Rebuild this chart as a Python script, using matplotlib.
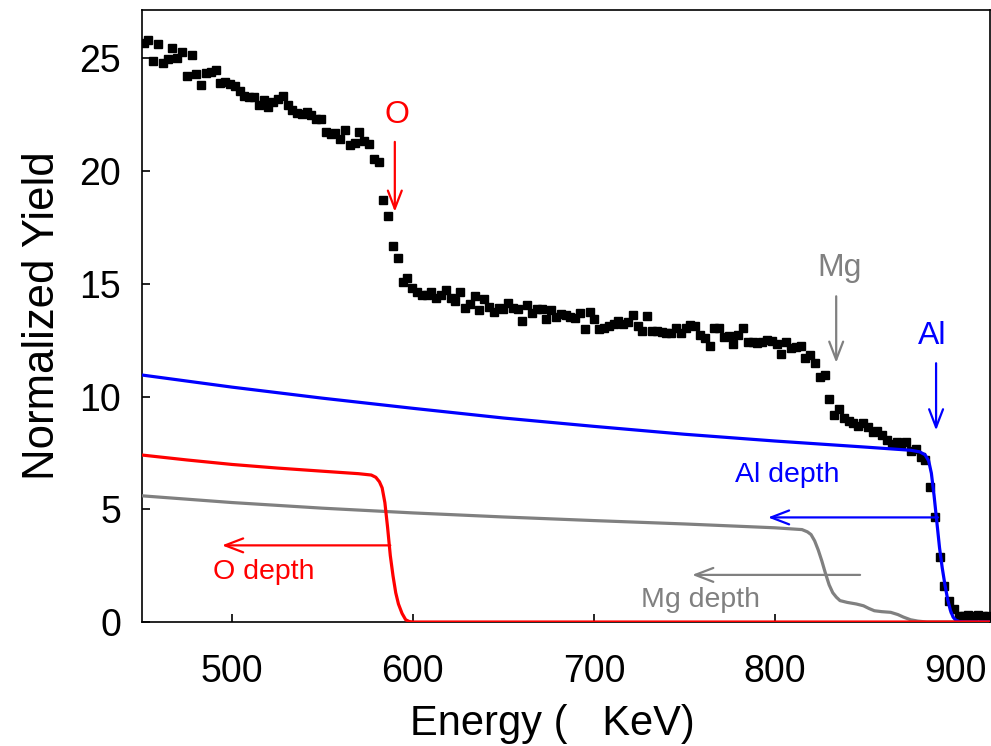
import numpy as np
import matplotlib.pyplot as plt

plt.rcParams['font.family'] = 'Liberation Sans'

# measured RBS spectrum (channel calibration + normalized yield)
e_start = 451.2   # keV, first channel
e_step = 2.65     # keV per channel
yield_exp = [
    25.68, 25.80, 24.87, 25.66, 24.78, 24.97, 25.46, 25.04, 25.27, 24.23,
    25.15, 24.33, 23.83, 24.35, 24.39, 24.49, 23.89, 23.94, 23.86, 23.76,
    23.57, 23.35, 23.27, 23.27, 22.95, 23.15, 22.86, 23.09, 23.20, 23.35,
    22.95, 22.71, 22.60, 22.55, 22.64, 22.47, 22.30, 22.33, 21.73, 21.63,
    21.68, 21.44, 21.81, 21.16, 21.26, 21.73, 21.33, 21.22, 20.52, 20.42,
    18.73, 17.99, 16.68, 16.17, 15.10, 15.24, 14.80, 14.66, 14.50, 14.50,
    14.65, 14.39, 14.49, 14.72, 14.39, 14.25, 14.62, 13.92, 14.10, 14.46,
    13.83, 14.35, 13.98, 13.77, 13.95, 13.87, 14.13, 13.95, 13.87, 13.36,
    14.05, 13.73, 13.87, 13.87, 13.46, 13.85, 13.54, 13.65, 13.61, 13.54,
    13.48, 13.70, 13.02, 13.75, 13.43, 12.99, 13.06, 13.14, 13.21, 13.36,
    13.21, 13.31, 13.62, 13.14, 12.92, 13.56, 12.89, 12.92, 12.87, 12.84,
    12.80, 13.06, 12.84, 13.06, 13.16, 13.14, 12.72, 12.59, 12.25, 13.03,
    13.06, 12.65, 12.69, 12.32, 12.73, 13.03, 12.44, 12.44, 12.39, 12.44,
    12.50, 12.47, 12.32, 11.88, 12.40, 12.15, 12.18, 12.25, 11.73, 11.85,
    11.47, 10.87, 10.95, 9.90, 9.18, 9.47, 9.07, 8.92, 8.81, 8.70,
    8.81, 8.63, 8.41, 8.48, 8.29, 8.08, 7.89, 7.97, 7.89, 7.97,
    7.59, 7.67, 7.33, 7.19, 5.97, 4.67, 2.87, 1.61, 0.92, 0.58,
    0.28, 0.25, 0.31, 0.25, 0.31, 0.28, 0.25,
]

# simulated partial spectra
al_energy = [450, 500, 550, 600, 650, 700, 750, 800, 850, 875, 880, 883, 885,
             886.5, 888, 889.5, 891, 892.5, 894, 895.5, 897, 898.5, 900, 902,
             905, 918]
al_yield = [10.96, 10.42, 9.93, 9.48, 9.05, 8.68, 8.33, 8.03, 7.76, 7.62, 7.55,
            7.42, 7.15, 6.6, 5.6, 4.45, 3.3, 2.4, 1.65, 1.0, 0.52, 0.22, 0.08,
            0.02, 0.0, 0.0]

o_energy = [450, 475, 500, 525, 550, 570, 577, 579.5, 581.5, 583, 584.5, 586,
            587.5, 589, 590.5, 592, 594, 596, 598, 600, 918]
o_yield = [7.41, 7.19, 6.99, 6.83, 6.69, 6.58, 6.52, 6.42, 6.22, 5.95, 5.3,
           4.2, 2.95, 2.05, 1.3, 0.8, 0.38, 0.1, 0.02, 0.0, 0.0]

mg_energy = [450, 500, 550, 600, 650, 700, 750, 800, 815, 818, 820, 822, 824,
             826, 828, 830, 832, 834, 836, 840, 845, 849, 852, 855, 859, 864,
             868, 871, 875, 879, 884, 918]
mg_yield = [5.6, 5.3, 5.05, 4.84, 4.66, 4.5, 4.35, 4.18, 4.1, 4.0, 3.88, 3.6,
            3.19, 2.7, 2.15, 1.65, 1.3, 1.1, 0.95, 0.87, 0.8, 0.72, 0.6, 0.5,
            0.46, 0.43, 0.33, 0.22, 0.1, 0.04, 0.0, 0.0]

energy = e_start + e_step * np.arange(len(yield_exp))

fig = plt.figure(figsize=(9.91, 7.46), dpi=100)
ax = fig.add_axes([0.1433, 0.1662, 0.8557, 0.8204])

ax.plot(energy, yield_exp, 's', color='black', markersize=5.6, zorder=2)
ax.plot(mg_energy, mg_yield, color='#808080', linewidth=2.3, zorder=3)
ax.plot(al_energy, al_yield, color='#0000ff', linewidth=2.3, zorder=4)
ax.plot(o_energy, o_yield, color='#ff0000', linewidth=2.3, zorder=5)


def arrow(tail, head, color):
    ax.annotate('', xy=head, xytext=tail,
                arrowprops=dict(arrowstyle='->,head_length=0.65,head_width=0.25',
                                color=color, lw=1.6, mutation_scale=20,
                                shrinkA=0, shrinkB=0))


# edge markers
ax.text(591, 22.5, 'O', color='#ff0000', fontsize=23, ha='center', va='center')
arrow((590, 21.3), (590, 18.2), '#ff0000')
ax.text(835.6, 15.7, 'Mg', color='#808080', fontsize=23, ha='center', va='center')
arrow((833.9, 14.45), (833.9, 11.5), '#808080')
ax.text(886.7, 12.7, 'Al', color='#0000ff', fontsize=23, ha='center', va='center')
arrow((889.1, 11.48), (889.1, 8.5), '#0000ff')

# depth scales
arrow((890.2, 4.64), (796.2, 4.64), '#0000ff')
ax.text(806.9, 6.52, 'Al depth', color='#0000ff', fontsize=20.5, ha='center', va='center')
arrow((587.5, 3.4), (494.5, 3.4), '#ff0000')
ax.text(517.7, 2.23, 'O depth', color='#ff0000', fontsize=20.5, ha='center', va='center')
arrow((847.1, 2.09), (754.3, 2.09), '#808080')
ax.text(759.1, 0.98, 'Mg depth', color='#808080', fontsize=20.5, ha='center', va='center')

ax.set_xlim(450.3, 918.9)
ax.set_ylim(0, 27.15)
ax.set_xticks([500, 600, 700, 800, 900])
ax.set_yticks([0, 5, 10, 15, 20, 25])
ax.tick_params(axis='x', direction='in', length=6, width=1.2, labelsize=27, pad=23)
ax.tick_params(axis='y', direction='in', length=6, width=1.2, labelsize=27, pad=15)
for side in ['left', 'bottom', 'top', 'right']:
    ax.spines[side].set_linewidth(1.2)

ax.set_xlabel('Energy (   KeV)', fontsize=30, labelpad=10, x=0.4835)
ax.set_ylabel('Normalized Yield', fontsize=31.5, labelpad=12)

fig.savefig('out.png', dpi=100)
